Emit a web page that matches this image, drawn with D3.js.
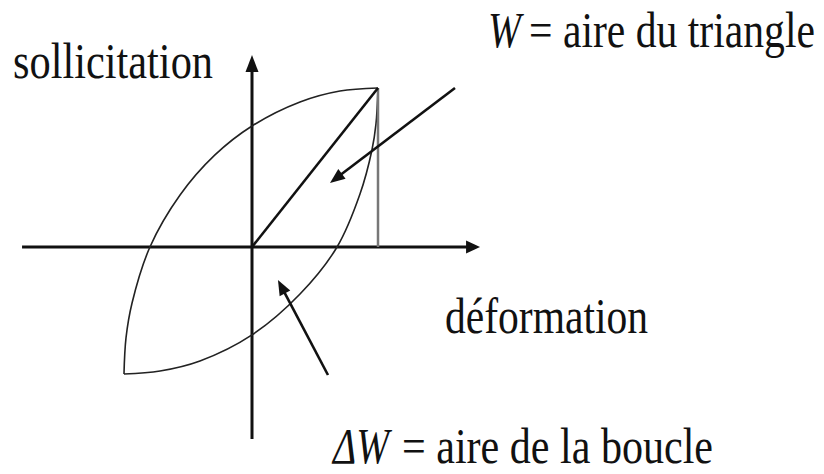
<!DOCTYPE html>
<html><head><meta charset="utf-8">
<script src="https://cdn.jsdelivr.net/npm/d3@7"></script>
<style>html,body{margin:0;padding:0;background:#fff;}svg{display:block;}</style>
</head><body>
<script>
// Data (x = déformation, y = sollicitation, arbitrary units; origin at axis crossing)
const upperBranchX = [-1.016, -1.0, -0.952, -0.81, -0.571, -0.294, 0, 0.381, 0.698, 1];
const upperBranchY = [-0.799, -0.572, -0.352, 0, 0.327, 0.579, 0.761, 0.912, 0.981, 1];
const lowerBranchX = [-1.016, -0.730, -0.413, 0, 0.381, 0.675, 0.857, 0.952, 0.984, 1];
const lowerBranchY = [-0.799, -0.780, -0.717, -0.553, -0.296, 0, 0.333, 0.610, 0.774, 1];
const peakX = 1, peakY = 1;
const xAxisRange = [-1.825, 1.81];
const yAxisRange = [-1.208, 1.208];
const arrowTriangle = [[1.611, 1.0], [0.619, 0.403]];
const arrowLoop = [[0.603, -0.805], [0.206, -0.208]];
const labels = ["sollicitation", "déformation"];

const W = 824, H = 474;
const svg = d3.select("body").append("svg").attr("width", W).attr("height", H);

const x = d3.scaleLinear().domain([0, 1]).range([252, 378]);
const y = d3.scaleLinear().domain([0, 1]).range([247, 88]);

const ink = "#111";

function arrowHead(x1, y1, x2, y2, len, wid) {
  const a = Math.atan2(y2 - y1, x2 - x1);
  const bx = x2 - len * Math.cos(a), by = y2 - len * Math.sin(a);
  const px = -Math.sin(a) * wid / 2, py = Math.cos(a) * wid / 2;
  return [[x2, y2], [bx + px, by + py], [bx - px, by - py]];
}
function drawArrow(p0, p1, sw, len, wid) {
  const x1 = x(p0[0]), y1 = y(p0[1]), x2 = x(p1[0]), y2 = y(p1[1]);
  const a = Math.atan2(y2 - y1, x2 - x1);
  svg.append("line").attr("x1", x1).attr("y1", y1)
    .attr("x2", x2 - (len - 2) * Math.cos(a)).attr("y2", y2 - (len - 2) * Math.sin(a))
    .attr("stroke", ink).attr("stroke-width", sw);
  svg.append("polygon").attr("points", arrowHead(x1, y1, x2, y2, len, wid).map(p => p.join(",")).join(" "))
    .attr("fill", ink);
}

// Axes
drawArrow([xAxisRange[0], 0], [xAxisRange[1], 0], 3, 14, 13);
drawArrow([0, yAxisRange[0]], [0, yAxisRange[1]], 3, 17, 13);

// Loop
const line = d3.line().x(d => x(d[0])).y(d => y(d[1])).curve(d3.curveCatmullRom.alpha(0.5));
svg.append("path").datum(upperBranchX.map((v, i) => [v, upperBranchY[i]]))
  .attr("d", line).attr("fill", "none").attr("stroke", "#222").attr("stroke-width", 1.6);
svg.append("path").datum(lowerBranchX.map((v, i) => [v, lowerBranchY[i]]))
  .attr("d", line).attr("fill", "none").attr("stroke", "#222").attr("stroke-width", 1.6);

// Triangle
svg.append("line").attr("x1", x(peakX)).attr("y1", y(peakY)).attr("x2", x(peakX)).attr("y2", y(0))
  .attr("stroke", "#777").attr("stroke-width", 2.5);
svg.append("line").attr("x1", x(0)).attr("y1", y(0)).attr("x2", x(peakX)).attr("y2", y(peakY))
  .attr("stroke", ink).attr("stroke-width", 2.6);

// Pointer arrows
drawArrow(arrowTriangle[0], arrowTriangle[1], 2.6, 15, 12);
drawArrow(arrowLoop[0], arrowLoop[1], 2.6, 15, 12);

// Text (serif, slightly tall proportions as in the reference)
const font = "'Liberation Serif', 'Times New Roman', serif";
function label(tx, ty, len, str, italic) {
  svg.append("g").attr("transform", `translate(${tx},${ty}) scale(1,1.22)`)
    .append("text").attr("x", 0).attr("y", 0)
    .attr("font-family", font).attr("font-size", 41.5).attr("fill", ink)
    .attr("font-style", italic ? "italic" : "normal")
    .attr("textLength", len).attr("lengthAdjust", "spacingAndGlyphs")
    .text(str);
}
label(13, 78, 200, labels[0], false);
label(445, 333, 203, labels[1], false);
label(488, 47, 33, "W", true);
label(529, 47, 286, "= aire du triangle", false);
label(333, 463, 56, "ΔW", true);
label(402, 463, 311, "= aire de la boucle", false);
</script>
</body></html>
